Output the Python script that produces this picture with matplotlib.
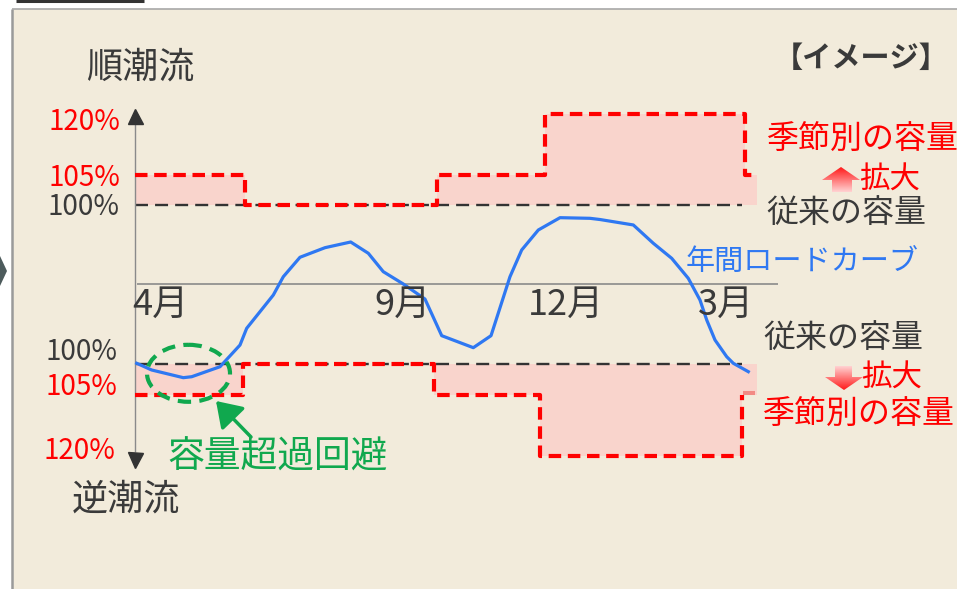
import numpy as np
import matplotlib
matplotlib.use("Agg")
import matplotlib.pyplot as plt
from matplotlib.patches import Rectangle, Polygon, Ellipse
from matplotlib.colors import LinearSegmentedColormap

plt.rcParams['font.family'] = ['Noto Sans CJK JP', 'DejaVu Sans']

# ---------------- data ----------------
# months counted from the start of April (0) to the end of March (12)
month_tick_pos = [0.49, 5.16, 8.32, 11.41]
month_tick_labels = ['4月', '9月', '12月', '3月']

# schematic capacity levels (percent -> vertical units, 1 unit = conventional capacity)
upper_level_units = {100: 0.9875, 105: 1.3625, 120: 2.119}
lower_level_units = {100: 1.0, 105: 1.3875, 120: 2.156}

# seasonal capacity (forward flow, upper) step edges and levels (%)
upper_edges = [0, 2.12, 5.83, 7.92, 11.78, 12]
upper_levels = [105, 100, 105, 120, 105]
# seasonal capacity (reverse flow, lower)
lower_edges = [0, 2.08, 5.77, 7.82, 11.72, 12]
lower_levels = [105, 100, 105, 120, 105]
conventional_end = 11.72

# annual load curve (positive = forward flow, negative = reverse flow)
load_month = [0.033, 0.322, 0.932, 1.095, 1.641, 2.027, 2.156, 2.670, 2.863, 3.185,
              3.668, 4.164, 4.504, 4.793, 5.180, 5.598, 5.921, 6.531, 6.873, 7.239,
              7.465, 7.786, 8.205, 8.784, 8.977, 9.620, 10.006, 10.361, 10.681, 10.907,
              11.037, 11.197, 11.423, 11.550, 11.840]
load_value = [-0.991, -1.075, -1.171, -1.159, -1.034, -0.763, -0.554, -0.138, 0.091, 0.334,
              0.454, 0.525, 0.384, 0.154, 0.0, -0.188, -0.646, -0.796, -0.646, 0.091,
              0.425, 0.675, 0.829, 0.821, 0.806, 0.738, 0.509, 0.321, 0.071, -0.2,
              -0.45, -0.7, -0.909, -0.991, -1.096]

upper_pct_labels = ['120%', '105%', '100%']
lower_pct_labels = ['100%', '105%', '120%']

# ---------------- style ----------------
BEIGE = '#f2ebdb'
PINK = '#f9d4cc'
RED = '#ff0000'
BLUE = '#2f78f2'
GREEN = '#10a84e'
DARK = '#3a3a3a'
GRAY = '#8a8a8a'
FONT = 'Noto Sans CJK JP'

W, H = 957, 589
X0_PX, PX_PER_MONTH = 135, 51.8
Y0_PX, PX_PER_UNIT = 284, 80.0

fig = plt.figure(figsize=(W / 100, H / 100), dpi=100)
fig.patch.set_facecolor('white')

# background / frame layer (pixel coordinates)
bg = fig.add_axes([0, 0, 1, 1], zorder=0)
bg.set_xlim(0, W); bg.set_ylim(H, 0); bg.axis('off')
bg.add_patch(Rectangle((12, 9), W - 12, H - 9, color=BEIGE, lw=0))
bg.plot([12, 12], [9, H], color='#9a9a9a', lw=1.8, solid_capstyle='butt')
bg.plot([12, W], [9, 9], color='#a8a8a8', lw=1.2, solid_capstyle='butt')
bg.plot([16, 144], [0.8, 0.8], color='#333333', lw=2.2, solid_capstyle='butt')
bg.add_patch(Polygon([(0, 256), (7, 271), (0, 286)], closed=True, color='#4d5b5c', lw=0))

# data layer
ax = fig.add_axes([0, 0, 1, 1], zorder=1)
ax.set_xlim(-X0_PX / PX_PER_MONTH, (W - X0_PX) / PX_PER_MONTH)
ax.set_ylim((Y0_PX - H) / PX_PER_UNIT, Y0_PX / PX_PER_UNIT)
ax.axis('off')
ax.patch.set_alpha(0)


def step_path(edges, levels, conv):
    xs, ys = [], []
    for i, lv in enumerate(levels):
        xs += [edges[i], edges[i + 1]]
        ys += [conv(lv), conv(lv)]
    return xs, ys


up = lambda lv: upper_level_units[lv]
dn = lambda lv: -lower_level_units[lv]

# fills
ux = upper_edges
uy = [up(l) for l in upper_levels] + [up(upper_levels[-1])]
ax.fill_between(ux, up(100), uy, step='post', color=PINK, lw=0, zorder=1)
lx = lower_edges
ly = [dn(l) for l in lower_levels] + [dn(lower_levels[-1])]
ax.fill_between(lx, dn(100), ly, step='post', color=PINK, lw=0, zorder=1)

# conventional capacity (black dashed)
black_ls = (0, (5.5, 3))
ax.plot([0, conventional_end], [up(100), up(100)], color='#333333', lw=1.7, ls=black_ls, zorder=2)
ax.plot([0, conventional_end], [dn(100), dn(100)], color='#333333', lw=1.7, ls=black_ls, zorder=2)

# seasonal capacity (red dashed)
red_ls = (0, (3, 1.6))
xs, ys = step_path(upper_edges, upper_levels, up)
ax.plot(xs, ys, color=RED, lw=3.0, ls=red_ls, zorder=3)
xs, ys = step_path(lower_edges[:-1], lower_levels[:-1], dn)
xs += [lower_edges[-2]]
ys += [dn(lower_levels[-1])]
ax.plot(xs, ys, color=RED, lw=3.0, ls=red_ls, zorder=3)
ax.plot([lower_edges[-2] + 0.02, lower_edges[-1] - 0.04], [dn(lower_levels[-1]) + 0.03] * 2,
        color='#f28a84', lw=2.9, zorder=1.5, solid_capstyle='butt')

# axes lines
ax.hlines(0, 0.04, 12.41, color=GRAY, lw=1.2, zorder=2)
ax.vlines(0, -2.1, 2.0125, color=GRAY, lw=1.0, zorder=2)
ax.plot([0], [2.106], marker='^', ms=10.8, color='#333333', zorder=3, lw=0)
ax.plot([0], [-2.194], marker='v', ms=10.8, color='#333333', zorder=3, lw=0)

# load curve
ax.plot(load_month, load_value, color=BLUE, lw=2.3, zorder=4, solid_joinstyle='round')

# month tick labels
for p, lab in zip(month_tick_pos, month_tick_labels):
    ax.text(p, -0.2625, lab, ha='center', va='center', fontsize=26, color=DARK, zorder=5)

# percent labels
upper_offsets = [(-15, -7.5), (-15, -3), (-15, -2)]
upper_colors = [RED, RED, DARK]
for lab, (dx, dy), c in zip(upper_pct_labels, upper_offsets, upper_colors):
    ax.annotate(lab, xy=(0, up(int(lab[:-1]))), xytext=(dx, dy), textcoords='offset pixels',
                ha='right', va='center', fontsize=20, color=c)
lower_offsets = [(-18, 12), (-18, 8), (-20, 5)]
lower_colors = [DARK, RED, RED]
for lab, (dx, dy), c in zip(lower_pct_labels, lower_offsets, lower_colors):
    ax.annotate(lab, xy=(0, dn(int(lab[:-1]))), xytext=(dx, dy), textcoords='offset pixels',
                ha='right', va='center', fontsize=20, color=c)

# overlay layer (pixel coordinates) for annotations
ov = fig.add_axes([0, 0, 1, 1], zorder=2)
ov.set_xlim(0, W); ov.set_ylim(H, 0); ov.axis('off'); ov.patch.set_alpha(0)


def t(x, y, s, size, color=DARK, ha='center', weight='normal'):
    ov.text(x, y, s, ha=ha, va='center', fontsize=size, color=color, fontweight=weight,
            family=[FONT, 'DejaVu Sans'])


t(140, 68, '順潮流', 26)
t(126, 500, '逆潮流', 26)
t(861, 58, '【イメージ】', 21, weight='bold')
t(862, 140, '季節別の容量', 23, RED)
t(890, 180, '拡大', 22, RED)
t(846, 213, '従来の容量', 23)
t(802, 262, '年間ロードカーブ', 21, BLUE)
t(843, 338, '従来の容量', 23)
t(892, 378, '拡大', 22, RED)
t(858, 415, '季節別の容量', 23, RED)
t(278, 457, '容量超過回避', 26.5, GREEN)

# gradient arrows
cm_up = LinearSegmentedColormap.from_list('gup', ['#ff1a1a', '#ffd2d2'])
grad = np.linspace(0, 1, 64).reshape(-1, 1)
up_poly = Polygon([(832, 192), (832, 180), (822, 180), (841, 167), (860, 180), (852, 180), (852, 192)],
                  closed=True, fc='none', ec='none')
ov.add_patch(up_poly)
im = ov.imshow(grad, extent=(822, 860, 192, 167), cmap=cm_up, aspect='auto', origin='upper',
               interpolation='bilinear')
im.set_clip_path(up_poly)
dn_poly = Polygon([(835, 366), (852, 366), (852, 377), (863, 377), (844, 390), (825, 377), (835, 377)],
                  closed=True, fc='none', ec='none')
ov.add_patch(dn_poly)
im2 = ov.imshow(grad[::-1], extent=(825, 863, 390, 366), cmap=cm_up, aspect='auto', origin='upper',
                interpolation='bilinear')
im2.set_clip_path(dn_poly)

# highlight ellipse and arrow
ov.add_patch(Ellipse((188.5, 373.3), 83, 57, fill=False, ec=GREEN, lw=3.0, ls=(0, (3.2, 2)), zorder=6))
ov.annotate('', xy=(216, 401), xytext=(251, 437),
            arrowprops=dict(arrowstyle='-|>,head_length=0.75,head_width=0.5', color=GREEN, lw=2.5,
                            shrinkA=0, shrinkB=0, mutation_scale=20))

ov.set_xlim(0, W); ov.set_ylim(H, 0)

fig.savefig('out.png', dpi=100)
